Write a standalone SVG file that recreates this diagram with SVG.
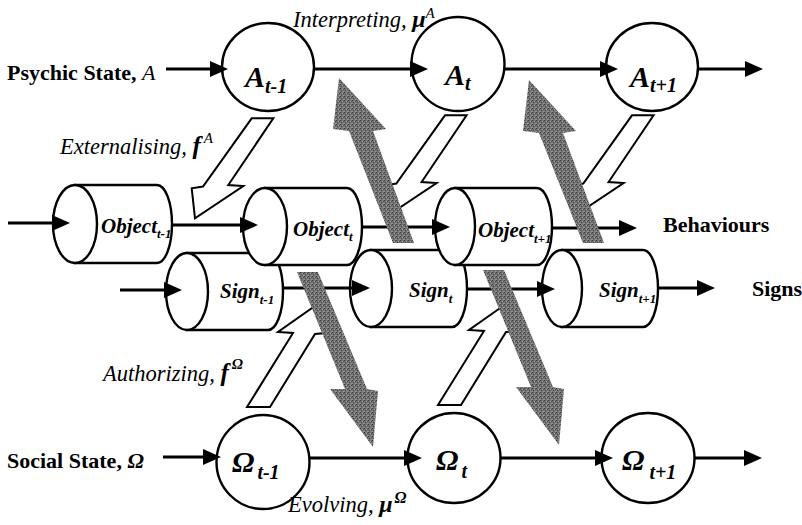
<svg xmlns="http://www.w3.org/2000/svg" width="802" height="525" viewBox="0 0 802 525" font-family="'Liberation Serif', 'Times New Roman', serif">
<style>
  .bg{fill:#fff}
  .node{fill:#fff;stroke:#000;stroke-width:2.4}
  .conn{fill:none;stroke:#000;stroke-width:3;marker-end:url(#ah)}
  .zig{fill:#fff;stroke:#000;stroke-width:2;stroke-linejoin:miter}
  .big{fill:url(#speck);stroke:none}
  text{fill:#000}
  .nl{font-weight:bold;font-style:italic;font-size:30px}
  .sub{font-size:20px}
  .cl{font-weight:bold;font-style:italic;font-size:21px}
  .csub{font-size:13px}
  .side{font-weight:bold;font-size:22px}
  .fl{font-style:italic;font-size:22.5px}
</style>
<defs>
  <marker id="ah" viewBox="0 0 18 16" refX="10" refY="8" markerWidth="18" markerHeight="16" markerUnits="userSpaceOnUse" orient="auto">
    <path d="M0,0 L18,8 L0,16 Z" fill="#000"/>
  </marker>
  <pattern id="speck" width="4" height="4" patternUnits="userSpaceOnUse">
    <rect width="4" height="4" fill="#727272"/>
    <rect x="0" y="0" width="1" height="1" fill="#383838"/>
    <rect x="2" y="1" width="1" height="1" fill="#a0a0a0"/>
    <rect x="1" y="2" width="1" height="1" fill="#484848"/>
    <rect x="3" y="3" width="1" height="1" fill="#989898"/>
    <rect x="3" y="1" width="1" height="1" fill="#505050"/>
    <rect x="0" y="3" width="1" height="1" fill="#888888"/>
  </pattern>
</defs>
<rect class="bg" width="802" height="525"/>

<g id="nodes">
  <g id="A_tm1">
    <ellipse class="node" cx="268" cy="67" rx="46" ry="44"/>
    <text class="nl" x="245" y="87">A<tspan class="sub" dy="6">t-1</tspan></text>
  </g>
  <g id="A_t">
    <ellipse class="node" cx="458" cy="64" rx="46.5" ry="47"/>
    <text class="nl" x="445" y="85">A<tspan class="sub" dy="5">t</tspan></text>
  </g>
  <g id="A_tp1">
    <ellipse class="node" cx="652" cy="67" rx="46" ry="44"/>
    <text class="nl" x="630" y="87">A<tspan class="sub" dy="5">t+1</tspan></text>
  </g>

  <g id="Object_tm1">
    <path class="node" d="M75,185 H157 A15,39 0 0 1 157,263 H75 Z"/>
    <ellipse class="node" cx="75" cy="224" rx="22" ry="39"/>
    <text class="cl" x="101" y="233">Object<tspan class="csub" dy="5">t-1</tspan></text>
  </g>
  <g id="Sign_tm1">
    <path class="node" d="M187,253 H268 A15,38.5 0 0 1 268,330 H187 Z"/>
    <ellipse class="node" cx="187" cy="291.5" rx="21" ry="38.5"/>
    <text class="cl" x="220" y="298">Sign<tspan class="csub" dy="6">t-1</tspan></text>
  </g>
  <g id="Object_t">
    <path class="node" d="M265,188 H347 A15,38.5 0 0 1 347,265 H265 Z"/>
    <ellipse class="node" cx="265" cy="226.5" rx="22" ry="38.5"/>
    <text class="cl" x="293" y="236">Object<tspan class="csub" dy="5">t</tspan></text>
  </g>
  <g id="Sign_t">
    <path class="node" d="M371,250 H452 A15,38.5 0 0 1 452,327 H371 Z"/>
    <ellipse class="node" cx="371" cy="288.5" rx="21" ry="38.5"/>
    <text class="cl" x="409" y="297">Sign<tspan class="csub" dy="6">t</tspan></text>
  </g>
  <g id="Object_tp1">
    <path class="node" d="M455,188 H537 A15,38.5 0 0 1 537,265 H455 Z"/>
    <ellipse class="node" cx="455" cy="226.5" rx="20" ry="38.5"/>
    <text class="cl" x="478" y="237">Object<tspan class="csub" dy="6">t+1</tspan></text>
  </g>
  <g id="Sign_tp1">
    <path class="node" d="M562,250 H643 A15,38.5 0 0 1 643,327 H562 Z"/>
    <ellipse class="node" cx="562" cy="288.5" rx="20" ry="38.5"/>
    <text class="cl" x="599" y="297">Sign<tspan class="csub" dy="6">t+1</tspan></text>
  </g>

  <g id="Omega_tm1">
    <ellipse class="node" cx="263" cy="462" rx="46.5" ry="47"/>
    <text class="nl" x="232" y="472" font-size="32">Ω<tspan class="sub" dx="3" dy="7">t-1</tspan></text>
  </g>
  <g id="Omega_t">
    <ellipse class="node" cx="454" cy="458" rx="46.5" ry="45"/>
    <text class="nl" x="436" y="470" font-size="32">Ω<tspan class="sub" dx="3" dy="8">t</tspan></text>
  </g>
  <g id="Omega_tp1">
    <ellipse class="node" cx="648" cy="458" rx="46.5" ry="45"/>
    <text class="nl" x="622" y="470" font-size="32">Ω<tspan class="sub" dx="5" dy="9">t+1</tspan></text>
  </g>
</g>

<g id="connectors">
  <line class="conn" x1="166" y1="69" x2="220" y2="69"/>
  <line class="conn" x1="314" y1="69" x2="420" y2="69"/>
  <line class="conn" x1="505" y1="69" x2="610" y2="69"/>
  <line class="conn" x1="698" y1="69" x2="755" y2="69"/>
  <line class="conn" x1="8" y1="223" x2="62" y2="223"/>
  <line class="conn" x1="172" y1="225" x2="250" y2="225"/>
  <line class="conn" x1="362" y1="227" x2="442" y2="227"/>
  <line class="conn" x1="552" y1="228" x2="629" y2="228"/>
  <line class="conn" x1="120" y1="290" x2="174" y2="290"/>
  <line class="conn" x1="283" y1="288" x2="362" y2="288"/>
  <line class="conn" x1="467" y1="289" x2="547" y2="289"/>
  <line class="conn" x1="658" y1="288" x2="707" y2="288"/>
  <line class="conn" x1="163" y1="457" x2="213" y2="457"/>
  <line class="conn" x1="310" y1="458" x2="414" y2="458"/>
  <line class="conn" x1="500" y1="458" x2="605" y2="458"/>
  <line class="conn" x1="695" y1="458" x2="754" y2="458"/>

  <polygon class="zig" points="251.7,118.3 273.3,118.3 228.3,185 243.3,186 195,218.3 191.7,188.3 203,186.5"/>
  <polygon class="zig" points="445,115.3 466.6,115.3 421.6,182 436.6,183 388.3,215.3 385,185.3 396.3,183.5"/>
  <polygon class="zig" points="632,115.3 653.6,115.3 608.6,182 623.6,183 575.3,215.3 572,185.3 583.3,183.5"/>
  <polygon class="zig" points="247,407 293,333 278,332 322,301 326,333 315,334 270,407"/>
  <polygon class="zig" points="438,405 484,331 469,330 513,299 517,331 506,332 461,405"/>

  <polygon class="big" points="339,78 386,129 373,131 414,243 393,243 349,131 333,129"/>
  <polygon class="big" points="529,80 576,131 563,133 604,243 583,243 539,133 523,131"/>
  <polygon class="big" points="297,272 318,272 367,389 378,391 373,447 330,389 345,389"/>
  <polygon class="big" points="483,270 504,270 553,387 564,389 559,445 516,387 531,387"/>
</g>

<g id="labels">
  <text class="side" x="7" y="80">Psychic State, <tspan font-style="italic" font-weight="normal">A</tspan></text>
  <text class="side" x="7" y="468" font-size="23">Social State, <tspan font-style="italic">Ω</tspan></text>
  <text class="side" x="663" y="232">Behaviours</text>
  <text class="side" x="752" y="296" font-size="21">Signs</text>
  <text class="fl" x="293" y="27">Interpreting, <tspan font-weight="bold" font-size="24">μ</tspan><tspan font-size="15" dy="-9">A</tspan></text>
  <text class="fl" x="60" y="154">Externalising, <tspan font-weight="bold" font-size="25">f</tspan><tspan font-size="15" dx="3" dy="-11">A</tspan></text>
  <text class="fl" x="103" y="381">Authorizing, <tspan font-weight="bold" font-size="25">f</tspan><tspan font-weight="bold" font-size="15" dx="3" dy="-12">Ω</tspan></text>
  <text class="fl" x="288" y="512">Evolving, <tspan font-weight="bold" font-size="24">μ</tspan><tspan font-weight="bold" font-size="16" dx="2" dy="-9">Ω</tspan></text>
</g>
</svg>
